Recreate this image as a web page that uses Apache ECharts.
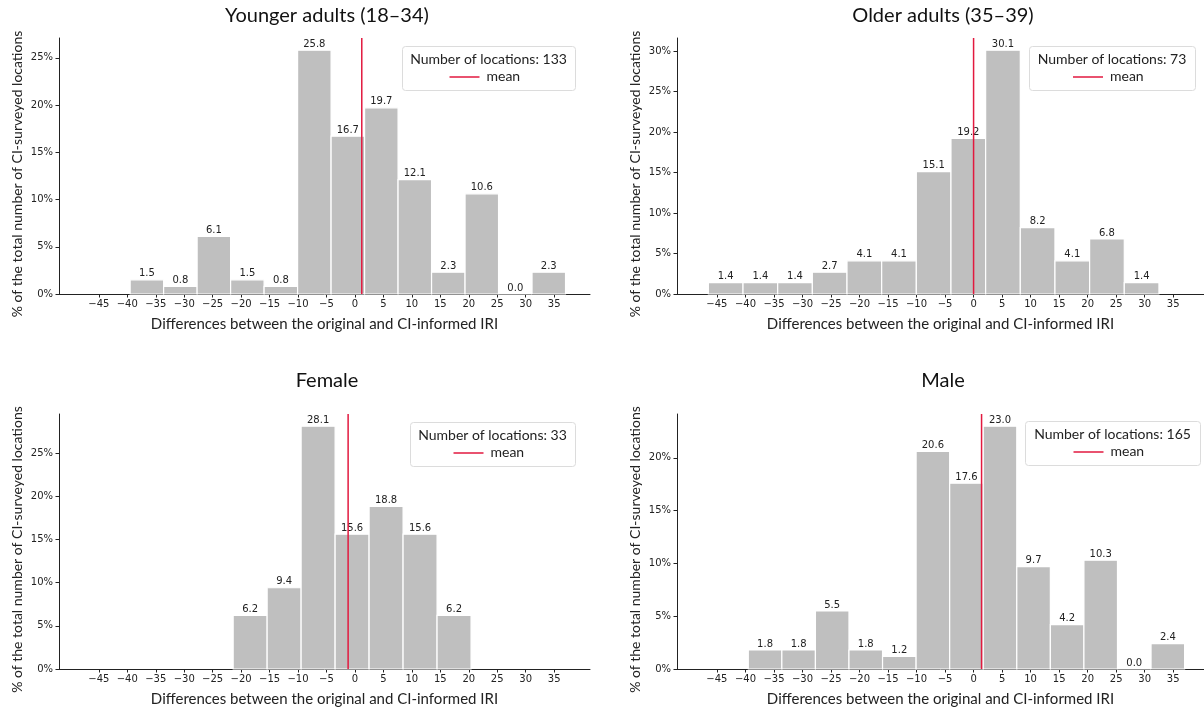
<!DOCTYPE html>
<html>
<head>
<meta charset="utf-8">
<script src="https://cdn.jsdelivr.net/npm/echarts@6/dist/echarts.min.js"></script>
<style>html,body{margin:0;padding:0;background:#fff}#c{width:1204px;height:714px}</style>
</head>
<body>
<div id="c"></div>
<script>
// ---- data ----
const xTicks = [-45, -40, -35, -30, -25, -20, -15, -10, -5, 0, 5, 10, 15, 20, 25, 30, 35];

const youngTitle = 'Younger adults (18–34)';
const youngValues = [1.5, 0.8, 6.1, 1.5, 0.8, 25.8, 16.7, 19.7, 12.1, 2.3, 10.6, 0.0, 2.3];
const youngRange = [-39.5, 37.0];
const youngMean = 1.2;
const youngN = 133;
const youngYTicks = [0, 5, 10, 15, 20, 25];

const olderTitle = 'Older adults (35–39)';
const olderValues = [1.4, 1.4, 1.4, 2.7, 4.1, 4.1, 15.1, 19.2, 30.1, 8.2, 4.1, 6.8, 1.4];
const olderRange = [-46.5, 32.5];
const olderMean = 0.0;
const olderN = 73;
const olderYTicks = [0, 5, 10, 15, 20, 25, 30];

const femaleTitle = 'Female';
const femaleValues = [6.2, 9.4, 28.1, 15.6, 18.8, 15.6, 6.2];
const femaleRange = [-21.4, 20.4];
const femaleMean = -1.2;
const femaleN = 33;
const femaleYTicks = [0, 5, 10, 15, 20, 25];

const maleTitle = 'Male';
const maleValues = [1.8, 1.8, 5.5, 1.8, 1.2, 20.6, 17.6, 23.0, 9.7, 4.2, 10.3, 0.0, 2.4];
const maleRange = [-39.5, 37.0];
const maleMean = 1.4;
const maleN = 165;
const maleYTicks = [0, 5, 10, 15, 20];

const xLabel = 'Differences between the original and CI-informed IRI';
const yLabel = '% of the total number of CI-surveyed locations';

// ---- layout ----
const panels = [
  {title: youngTitle, values: youngValues, range: youngRange, mean: youngMean, n: youngN, yTicks: youngYTicks,
   grid: {left: 59, top: 38, width: 531, height: 256}, xMin: -52, xMax: 41.3, cx: 327, ty: 6,
   leg: {x: 402, y: 46, w: 173, h: 44}},
  {title: olderTitle, values: olderValues, range: olderRange, mean: olderMean, n: olderN, yTicks: olderYTicks,
   grid: {left: 677, top: 38, width: 527, height: 256}, xMin: -52, xMax: 40.4, cx: 943, ty: 6,
   leg: {x: 1029, y: 46, w: 166, h: 44}},
  {title: femaleTitle, values: femaleValues, range: femaleRange, mean: femaleMean, n: femaleN, yTicks: femaleYTicks,
   grid: {left: 59, top: 414, width: 531, height: 255}, xMin: -52, xMax: 41.3, cx: 327, ty: 371,
   leg: {x: 410, y: 422, w: 165, h: 44}},
  {title: maleTitle, values: maleValues, range: maleRange, mean: maleMean, n: maleN, yTicks: maleYTicks,
   grid: {left: 677, top: 414, width: 527, height: 255}, xMin: -52, xMax: 40.4, cx: 943, ty: 371,
   leg: {x: 1025, y: 421, w: 175, h: 44}}
];

const BAR = '#bfbfbf';
const RED = '#e2193f';
const AX = '#222';
const TICKFONT = 'DejaVu Sans';
const TXTFONT = 'Lato';

function barRender(params, api) {
  const x0 = api.value(0), x1 = api.value(1), v = api.value(2);
  const p0 = api.coord([x0, v]);
  const p1 = api.coord([x1, 0]);
  return {
    type: 'group',
    children: [
      {type: 'rect', shape: {x: p0[0], y: p0[1], width: p1[0] - p0[0], height: p1[1] - p0[1]},
       style: {fill: BAR, stroke: '#ffffff', lineWidth: 1.2}},
      {type: 'text', style: {text: v.toFixed(1), x: (p0[0] + p1[0]) / 2, y: p0[1] - 1,
        align: 'center', verticalAlign: 'bottom', fill: '#222', font: '10px "' + TICKFONT + '"'}}
    ]
  };
}
function meanRender(params, api) {
  const m = api.value(0), top = api.value(1);
  const a = api.coord([m, 0]), b = api.coord([m, top]);
  return {type: 'line', shape: {x1: a[0], y1: a[1], x2: b[0], y2: b[1]},
          style: {stroke: RED, lineWidth: 1.5}};
}

const grids = [], xAxes = [], yAxes = [], series = [], graphics = [];
panels.forEach((p, i) => {
  const ymax = Math.max.apply(null, p.values) * 1.05;
  const w = (p.range[1] - p.range[0]) / p.values.length;
  const barData = p.values.map((v, k) => [p.range[0] + k * w, p.range[0] + (k + 1) * w, v]);
  grids.push(Object.assign({containLabel: false}, p.grid));
  xAxes.push({
    type: 'value', gridIndex: i, min: p.xMin, max: p.xMax,
    name: xLabel, nameLocation: 'middle', nameGap: 23,
    nameTextStyle: {fontFamily: TXTFONT, fontSize: 15, color: '#222'},
    axisLine: {show: true, onZero: false, lineStyle: {color: AX, width: 1}},
    axisTick: {show: true, length: 3.5, inside: false, customValues: xTicks, lineStyle: {color: AX}},
    axisLabel: {customValues: xTicks, margin: 5, fontFamily: TICKFONT, fontSize: 10, color: '#222',
      formatter: v => (v < 0 ? '\u2212' + Math.abs(v) : String(v))},
    splitLine: {show: false}
  });
  yAxes.push({
    type: 'value', gridIndex: i, min: 0, max: ymax,
    name: yLabel, nameLocation: 'middle', nameGap: 35,
    nameTextStyle: {fontFamily: TXTFONT, fontSize: 14, color: '#222', padding: [0, 16, 0, 0]},
    axisLine: {show: true, onZero: false, lineStyle: {color: AX, width: 1}},
    axisTick: {show: true, length: 3.5, customValues: p.yTicks, lineStyle: {color: AX}},
    axisLabel: {customValues: p.yTicks, margin: 6, fontFamily: TICKFONT, fontSize: 10, color: '#222',
      formatter: v => v + '%'},
    splitLine: {show: false}
  });
  series.push({
    type: 'custom', xAxisIndex: i, yAxisIndex: i, renderItem: barRender,
    encode: {x: [0, 1], y: 2}, data: barData, silent: true, z: 2
  });
  series.push({
    type: 'custom', xAxisIndex: i, yAxisIndex: i, renderItem: meanRender,
    encode: {x: 0, y: 1}, data: [[p.mean, ymax]], silent: true, z: 3
  });
  // title
  graphics.push({type: 'text', x: p.cx, y: p.ty, style: {text: p.title, font: '20px "' + TXTFONT + '"',
    fill: '#111', align: 'center', verticalAlign: 'top'}, z: 10});
  // legend box
  const L = p.leg;
  graphics.push({type: 'rect', shape: {x: L.x + 0.5, y: L.y + 0.5, width: L.w, height: L.h, r: 3},
    style: {fill: 'rgba(255,255,255,0.85)', stroke: '#dcdcdc', lineWidth: 1}, z: 10});
  graphics.push({type: 'text', x: L.x + L.w / 2, y: L.y + 13.5, style: {text: 'Number of locations: ' + p.n,
    font: '14px "' + TXTFONT + '"', fill: '#222', align: 'center', verticalAlign: 'middle'}, z: 11});
  const cx = L.x + L.w / 2;
  graphics.push({type: 'line', shape: {x1: cx - 39, y1: L.y + 31, x2: cx - 9, y2: L.y + 31},
    style: {stroke: RED, lineWidth: 1.5}, z: 11});
  graphics.push({type: 'text', x: cx - 2, y: L.y + 30.5, style: {text: 'mean',
    font: '14px "' + TXTFONT + '"', fill: '#222', align: 'left', verticalAlign: 'middle'}, z: 11});
});

const chart = echarts.init(document.getElementById('c'), null, {renderer: 'canvas'});
chart.setOption({
  animation: false,
  backgroundColor: '#ffffff',
  grid: grids,
  xAxis: xAxes,
  yAxis: yAxes,
  series: series,
  graphic: graphics
});
</script>
</body>
</html>
